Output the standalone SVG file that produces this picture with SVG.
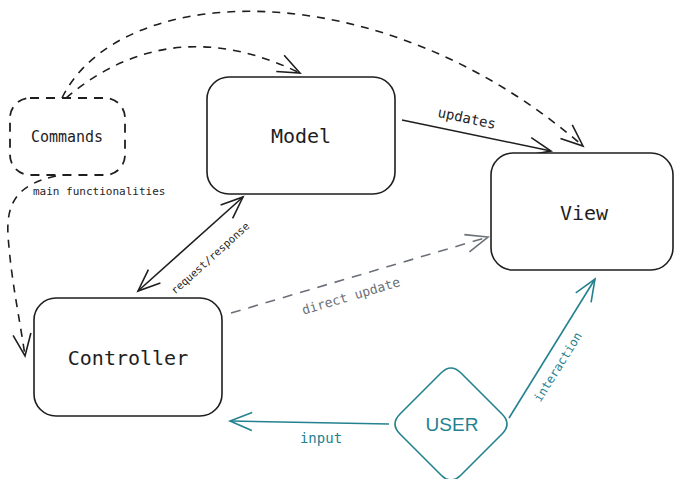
<svg xmlns="http://www.w3.org/2000/svg" width="674" height="479" viewBox="0 0 674 479">
<style>
.box{fill:#fff;stroke:#1e1e1e;stroke-width:1.6}
.dbox{fill:none;stroke:#1e1e1e;stroke-width:1.8;stroke-dasharray:9 7}
.t{font-family:"DejaVu Sans Mono","Liberation Mono",monospace;fill:#1e1e1e;text-anchor:middle;dominant-baseline:central}
.ln{fill:none;stroke:#1e1e1e;stroke-width:1.6}
.dash{fill:none;stroke:#1e1e1e;stroke-width:1.6;stroke-dasharray:8 7}
.grey{fill:none;stroke:#6b7078;stroke-width:1.6;stroke-dasharray:10 8}
.teal{fill:none;stroke:#24818f;stroke-width:1.6}
.lbl{font-family:"DejaVu Sans Mono","Liberation Mono",monospace;text-anchor:middle;dominant-baseline:central}
</style>
<defs>
<marker id="ah" markerUnits="userSpaceOnUse" markerWidth="30" markerHeight="30" refX="0" refY="0" viewBox="-25 -15 30 30" orient="auto-start-reverse">
<path d="M-22 -9 L0 0 L-22 9" fill="none" stroke="#1e1e1e" stroke-width="1.6"/>
</marker>
<marker id="ahg" markerUnits="userSpaceOnUse" markerWidth="30" markerHeight="30" refX="0" refY="0" viewBox="-25 -15 30 30" orient="auto">
<path d="M-22 -9 L0 0 L-22 9" fill="none" stroke="#6b7078" stroke-width="1.6"/>
</marker>
<marker id="aht" markerUnits="userSpaceOnUse" markerWidth="30" markerHeight="30" refX="0" refY="0" viewBox="-25 -15 30 30" orient="auto">
<path d="M-22 -9 L0 0 L-22 9" fill="none" stroke="#24818f" stroke-width="1.6"/>
</marker>
</defs>
<rect width="674" height="479" fill="#fff"/>
<g id="connectors">
<path class="dash" d="M62 98 C120 -20 380 -30 583 146" marker-end="url(#ah)"/>
<path class="dash" d="M66 98 Q170 10 300 73" marker-end="url(#ah)"/>
<path class="dash" d="M56 176 C20 184 6 200 8 235 C11 280 20 320 25 356" marker-end="url(#ah)"/>
<path class="ln" d="M402 120 L551 151" marker-end="url(#ah)"/>
<path class="ln" d="M138 291 L243 197" marker-start="url(#ah)" marker-end="url(#ah)"/>
<path class="grey" d="M231 313 L488 237" marker-end="url(#ahg)"/>
<path class="teal" d="M509 418 L595 279" marker-end="url(#aht)"/>
<path class="teal" d="M389 424 L230 421" marker-end="url(#aht)"/>
<text class="lbl" x="467" y="118" font-size="14" fill="#1e1e1e" transform="rotate(12 467 118)">updates</text>
<text class="lbl" x="210" y="258" font-size="10.5" fill="#1e1e1e" transform="rotate(-42 210 258)">request/response</text>
<text class="lbl" x="351" y="296" font-size="13" fill="#6b7078" transform="rotate(-16.5 351 296)">direct update</text>
<text class="lbl" x="558" y="367" font-size="12" fill="#24818f" transform="rotate(-58 558 367)">interaction</text>
<text class="lbl" x="321" y="438" font-size="14" fill="#24818f">input</text>
<text x="33" y="191" font-family="DejaVu Sans Mono, Liberation Mono, monospace" font-size="11" fill="#1e1e1e" dominant-baseline="central">main functionalities</text>
</g>
<g id="commands">
<rect class="dbox" x="10" y="98" width="115" height="77" rx="20"/>
<text class="t" x="67" y="137" font-size="15">Commands</text>
</g>
<g id="model">
<rect class="box" x="207" y="77" width="188" height="117" rx="22"/>
<text class="t" x="301" y="136" font-size="20">Model</text>
</g>
<g id="view">
<rect class="box" x="491" y="153" width="182" height="117" rx="22"/>
<text class="t" x="584" y="213" font-size="20">View</text>
</g>
<g id="controller">
<rect class="box" x="34" y="298" width="188" height="118" rx="22"/>
<text class="t" x="128" y="358" font-size="20">Controller</text>
</g>
<g id="user">
<path d="M441 373 Q451 363 461 373 L502 414 Q512 424 502 434 L461 475 Q451 485 441 475 L400 434 Q390 424 400 414 Z" fill="#fff" stroke="#24818f" stroke-width="1.6"/>
<text x="452" y="424" font-family="Liberation Sans, Arial, sans-serif" font-size="19" fill="#24818f" text-anchor="middle" dominant-baseline="central">USER</text>
</g>
</svg>
